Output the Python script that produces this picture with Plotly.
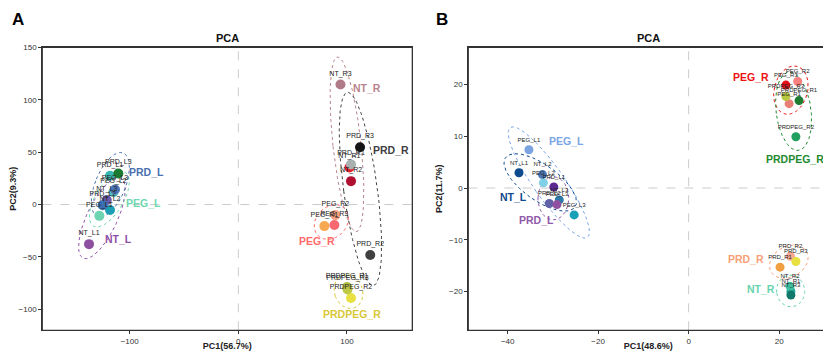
import numpy as np
import plotly.graph_objects as go

# ---------------- data: panel A ----------------
A_samples = ["NT_L1", "NT_L2", "NT_L3", "PEG_L1", "PEG_L2", "PEG_L3", "PRD_L1", "PRD_L2", "PRD_L3",
             "NT_R1", "NT_R2", "NT_R3", "PEG_R1", "PEG_R2", "PEG_R3", "PRD_R1", "PRD_R2", "PRD_R3",
             "PRDPEG_R1", "PRDPEG_R2", "PRDPEG_R3"]
A_pc1 = [-137.4, -118.1, -121.1, -127.9, -114.9, -113.5, -118.1, -124.8, -110.4,
         102.2, 103.7, 94.0, 79.2, 89.3, 88.4, 103.7, 121.4, 112.0,
         100.0, 103.7, 100.5]
A_pc2 = [-37.8, -5.3, 4.2, -10.8, 11.8, 14.4, 27.4, -0.6, 29.6,
         35.4, 22.3, 114.5, -20.6, -10.1, -19.6, 38.3, -48.2, 54.6,
         -78.7, -89.2, -81.0]
A_colors = ["#8E4FA0", "#1E9EB4", "#6A5AAA", "#6CD4B0", "#5CC0C0", "#4C75B5", "#38B8B0", "#3A6EB0", "#1A7A30",
            "#E0202A", "#B01030", "#B07A88", "#F8A850", "#F8A080", "#F86870", "#A8B0B0", "#404040", "#151515",
            "#B0C040", "#E8E040", "#C0C848"]
A_groups = ["NT_L", "PEG_L", "PRD_L", "NT_R", "PRD_R", "PEG_R", "PRDPEG_R"]
A_group_colors = ["#8E50A8", "#6ED8AE", "#4A72B0", "#B8858F", "#404040", "#FF6B6B", "#D8C838"]
A_group_lx = [-110.4, -87.4, -84.8, 118.8, 140.6, 72.7, 104.9]
A_group_ly = [-33.3, 1.0, 30.7, 110.7, 51.9, -34.9, -104.0]

# ---------------- data: panel B ----------------
B_samples = ["NT_L1", "NT_L2", "NT_L3", "PEG_L1", "PEG_L2", "PEG_L3", "PRD_L1", "PRD_L2", "PRD_L3",
             "NT_R1", "NT_R2", "NT_R3", "PEG_R1", "PEG_R2", "PEG_R3", "PRD_R1", "PRD_R2", "PRD_R3",
             "PRDPEG_R1", "PRDPEG_R2", "PRDPEG_R3"]
B_pc1 = [-37.5, -32.3, -28.6, -35.3, -32.1, -25.3, -29.8, -30.8, -29.1,
         22.6, 22.4, 22.6, 22.2, 24.1, 21.5, 20.2, 22.5, 23.7,
         24.4, 23.7, 21.5]
B_pc2 = [2.95, 2.6, -2.3, 7.4, 1.0, -5.2, 0.2, -3.0, -3.2,
         -20.0, -19.0, -20.7, 16.3, 20.6, 19.9, -15.3, -13.2, -14.2,
         16.9, 9.9, 17.7]
B_colors = ["#0D4A8E", "#4A78B8", "#2E78A8", "#7BA3E0", "#80D0E8", "#18A0B8", "#5A2A90", "#6060A8", "#9050A0",
            "#20A8A0", "#40C0A0", "#107868", "#E88078", "#F88080", "#E8101A", "#F0A040", "#F8A890", "#E8E040",
            "#1E7B30", "#20A060", "#B8C840"]
B_groups = ["PEG_R", "PRDPEG_R", "PEG_L", "NT_L", "PRD_L", "PRD_R", "NT_R"]
B_group_colors = ["#EE1111", "#1E8A2E", "#7AA5E6", "#0D4A8E", "#9058A8", "#F8A078", "#66D4AE"]
B_group_lx = [13.7, 23.6, -27.1, -38.6, -33.7, 12.7, 16.1]
B_group_ly = [21.4, 5.6, 9.1, -1.8, -6.1, -13.7, -19.6]

A_xrange = [-180.4, 160.1]
A_yrange = [-120.0, 150.0]
B_xrange = [-48.7, 30.8]
B_yrange = [-27.5, 27.2]

# the page body has an 8px margin, so the figure is sized to fill the rest of the window
OFF = 8
W, H = 831 - OFF, 351 - OFF


def px_x(p):
    return (p - OFF) / W


def px_y(p):
    return (351 - p) / H


A_dom_x = [px_x(42.3), px_x(412.3)]
B_dom_x = [px_x(468.3), px_x(828.0)]
dom_y = [px_y(330.3), px_y(47.3)]


def ellipse(xs, ys, xr, yr, dx, dy, k=1.65, pad=8.5):
    pw = (dx[1] - dx[0]) * W
    ph = (dy[1] - dy[0]) * H
    sx = (xr[1] - xr[0]) / pw
    sy = (yr[1] - yr[0]) / ph
    P = np.column_stack([np.asarray(xs) / sx, np.asarray(ys) / sy])
    mu = P.mean(axis=0)
    C = np.cov(P.T) + pad ** 2 * np.eye(2)
    vals, vecs = np.linalg.eigh(C)
    t = np.linspace(0, 2 * np.pi, 120)
    circ = np.vstack([np.cos(t), np.sin(t)])
    pts = mu[:, None] + vecs @ (k * np.sqrt(vals)[:, None] * circ)
    return pts[0] * sx, pts[1] * sy


fig = go.Figure()


def add_panel(samples, pc1, pc2, colors, groups, gcolors, glx, gly, xr, yr, dx, xa, ya,
              msize, lsize, gsize):
    grp_of = [s[:-1] for s in samples]
    for g, c in zip(groups, gcolors):
        idx = [i for i, gg in enumerate(grp_of) if gg == g]
        ex, ey = ellipse([pc1[i] for i in idx], [pc2[i] for i in idx], xr, yr, dx, dom_y)
        fig.add_trace(go.Scatter(x=ex, y=ey, mode="lines", xaxis=xa, yaxis=ya,
                                 line=dict(color=c, width=1, dash="dot"),
                                 hoverinfo="skip", showlegend=False))
    fig.add_trace(go.Scatter(x=pc1, y=pc2, mode="markers+text", xaxis=xa, yaxis=ya,
                             marker=dict(size=msize, color=colors, opacity=1),
                             text=samples, textposition="top center",
                             textfont=dict(size=lsize, color="#222222", family="Liberation Sans"),
                             showlegend=False))
    for g, c, lx, ly in zip(groups, gcolors, glx, gly):
        fig.add_annotation(x=lx, y=ly, xref=xa, yref=ya, text="<b>%s</b>" % g,
                           xanchor="center", yanchor="middle",
                           showarrow=False, font=dict(size=gsize, color=c, family="Liberation Sans"))


add_panel(A_samples, A_pc1, A_pc2, A_colors, A_groups, A_group_colors, A_group_lx, A_group_ly,
          A_xrange, A_yrange, A_dom_x, "x", "y", 10, 7, 10.5)
add_panel(B_samples, B_pc1, B_pc2, B_colors, B_groups, B_group_colors, B_group_lx, B_group_ly,
          B_xrange, B_yrange, B_dom_x, "x2", "y2", 9, 6, 10.5)

axis_common = dict(showgrid=False, zeroline=False, automargin=False,
                   showline=True, linecolor="#333333", linewidth=1.2, mirror=True,
                   ticks="outside", ticklen=3, tickcolor="#333333",
                   tickfont=dict(size=8, color="#333333", family="Liberation Sans"))

fig.update_layout(
    width=W, height=H, margin=dict(l=0, r=0, t=0, b=0, autoexpand=False),
    plot_bgcolor="white", paper_bgcolor="white",
    xaxis=dict(domain=A_dom_x, range=A_xrange, anchor="y", tickvals=[-100, 0, 100],
               title=dict(text="<b>PC1(56.7%)</b>", font=dict(size=9, color="#222"), standoff=2), **axis_common),
    yaxis=dict(domain=dom_y, range=A_yrange, anchor="x", tickvals=[-100, -50, 0, 50, 100, 150],
               title=dict(text="<b>PC2(9.3%)</b>", font=dict(size=9, color="#222"), standoff=4), **axis_common),
    xaxis2=dict(domain=B_dom_x, range=B_xrange, anchor="y2", tickvals=[-40, -20, 0, 20],
                title=dict(text="<b>PC1(48.6%)</b>", font=dict(size=9, color="#222"), standoff=2), **axis_common),
    yaxis2=dict(domain=dom_y, range=B_yrange, anchor="x2", tickvals=[-20, -10, 0, 10, 20],
                title=dict(text="<b>PC2(11.7%)</b>", font=dict(size=9, color="#222"), standoff=4), **axis_common),
    font=dict(family="Liberation Sans"),
)

# dashed reference lines at zero and plot frames
for xa, ya in [("x", "y"), ("x2", "y2")]:
    fig.add_shape(type="line", xref=xa, yref=ya + " domain", x0=0, x1=0, y0=0, y1=1,
                  line=dict(color="#cccccc", width=1, dash="dash"), layer="below")
    fig.add_shape(type="line", xref=xa + " domain", yref=ya, x0=0, x1=1, y0=0, y1=0,
                  line=dict(color="#cccccc", width=1, dash="dash"), layer="below")
    fig.add_shape(type="rect", xref=xa + " domain", yref=ya + " domain", x0=0, x1=1, y0=0, y1=1,
                  line=dict(color="#333333", width=1.2), layer="above")

# titles and panel letters
for cx in [(A_dom_x[0] + A_dom_x[1]) / 2, (B_dom_x[0] + B_dom_x[1]) / 2]:
    fig.add_annotation(x=cx, y=px_y(38), xref="paper", yref="paper", text="<b>PCA</b>",
                       xanchor="center", yanchor="middle",
                       showarrow=False, font=dict(size=11, color="#111", family="Liberation Sans"))
for lx, t in [(18, "A"), (442, "B")]:
    fig.add_annotation(x=px_x(lx), y=px_y(20), xref="paper", yref="paper", text="<b>%s</b>" % t,
                       xanchor="center", yanchor="middle",
                       showarrow=False, font=dict(size=17, color="#000", family="Liberation Sans"))

fig.write_html("out.html")
